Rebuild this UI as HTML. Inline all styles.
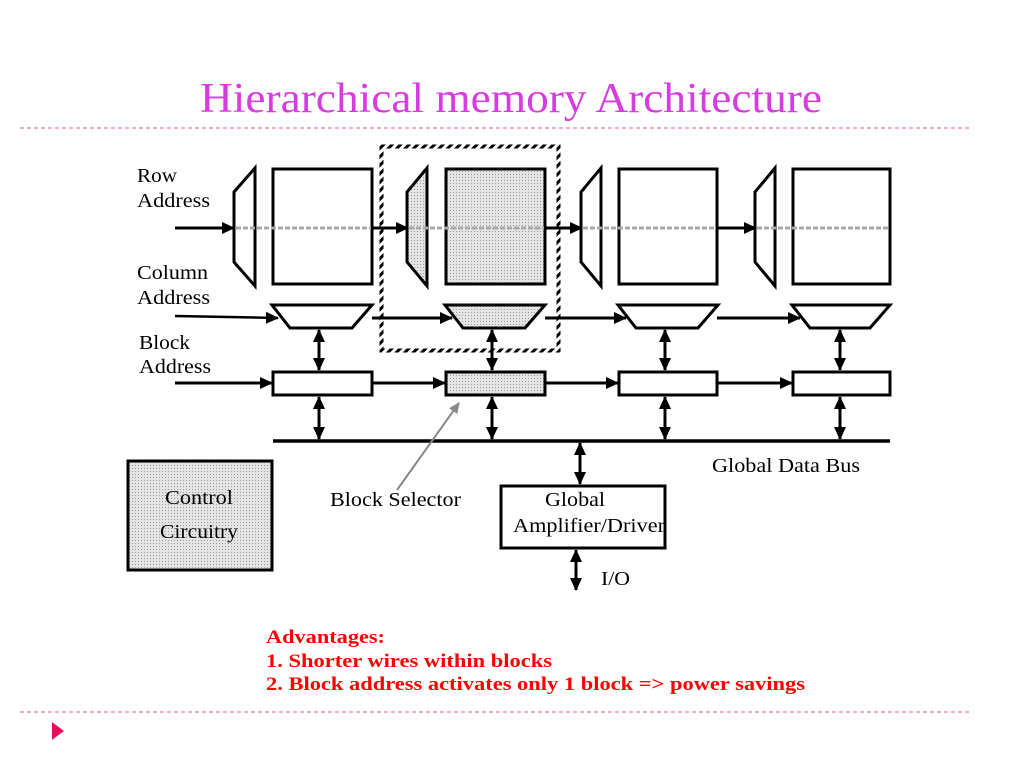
<!DOCTYPE html>
<html><head><meta charset="utf-8"><style>
html,body{margin:0;padding:0;background:#fff;}
svg{display:block;}
text{font-family:"Liberation Serif",serif;}
</style></head><body>
<svg width="1024" height="768" viewBox="0 0 1024 768" xmlns="http://www.w3.org/2000/svg">
<defs>
<pattern id="dots" width="3" height="3" patternUnits="userSpaceOnUse">
<rect width="3" height="3" fill="#e4e4e4"/><rect width="1" height="1" fill="#9a9a9a"/>
</pattern>
<pattern id="hatch" width="6" height="6" patternUnits="userSpaceOnUse" patternTransform="rotate(45)">
<rect width="6" height="6" fill="#fff"/><rect width="3" height="6" fill="#000"/>
</pattern>
<marker id="ah" markerWidth="13" markerHeight="12" refX="12" refY="6" orient="auto" markerUnits="userSpaceOnUse"><path d="M0,0 L13,6 L0,12 z" fill="#000"/></marker>
<marker id="ahs" markerWidth="13" markerHeight="12" refX="1" refY="6" orient="auto" markerUnits="userSpaceOnUse"><path d="M13,0 L0,6 L13,12 z" fill="#000"/></marker>
<marker id="ahg" markerWidth="12" markerHeight="12" refX="10" refY="6" orient="auto" markerUnits="userSpaceOnUse"><path d="M0,1 L11,6 L0,11 z" fill="#888"/></marker>
</defs>

<text x="200" y="112" font-size="42" fill="#d63ce0" textLength="622" lengthAdjust="spacingAndGlyphs">Hierarchical memory Architecture</text>
<line x1="20" y1="128" x2="972" y2="128" stroke="#e0609a" stroke-width="1" stroke-dasharray="4,3"/>
<line x1="20" y1="712" x2="972" y2="712" stroke="#e0609a" stroke-width="1" stroke-dasharray="4,3"/>
<polygon points="52,722 64,731 52,740" fill="#e0105a"/>

<rect x="381.5" y="146.5" width="177" height="204" fill="none" stroke="url(#hatch)" stroke-width="4"/>

<line x1="175" y1="228" x2="234" y2="228" stroke="#000" stroke-width="3" marker-end="url(#ah)"/>
<line x1="372" y1="228" x2="408" y2="228" stroke="#000" stroke-width="3" marker-end="url(#ah)"/>
<line x1="545" y1="228" x2="582" y2="228" stroke="#000" stroke-width="3" marker-end="url(#ah)"/>
<line x1="717" y1="228" x2="756" y2="228" stroke="#000" stroke-width="3" marker-end="url(#ah)"/>

<line x1="175" y1="316" x2="278" y2="318" stroke="#000" stroke-width="2.5" marker-end="url(#ah)"/>
<line x1="372" y1="318" x2="452" y2="318" stroke="#000" stroke-width="3" marker-end="url(#ah)"/>
<line x1="545" y1="318" x2="626" y2="318" stroke="#000" stroke-width="3" marker-end="url(#ah)"/>
<line x1="717" y1="318" x2="800" y2="318" stroke="#000" stroke-width="3" marker-end="url(#ah)"/>

<line x1="175" y1="383" x2="272" y2="383" stroke="#000" stroke-width="3" marker-end="url(#ah)"/>
<line x1="372" y1="383" x2="445" y2="383" stroke="#000" stroke-width="3" marker-end="url(#ah)"/>
<line x1="545" y1="383" x2="618" y2="383" stroke="#000" stroke-width="3" marker-end="url(#ah)"/>
<line x1="717" y1="383" x2="792" y2="383" stroke="#000" stroke-width="3" marker-end="url(#ah)"/>

<g stroke="#000" stroke-width="3">
<polygon points="255,168 255,286 234,262 234,192" fill="#fff"/>
<rect x="273" y="169" width="99" height="115" fill="#fff"/>
<polygon points="272,305 372,305 352,328 290,328" fill="#fff"/>
<rect x="273" y="372" width="99" height="23" fill="#fff"/>

<polygon points="427,168 427,286 407,262 407,192" fill="url(#dots)"/>
<rect x="446" y="169" width="99" height="115" fill="url(#dots)"/>
<polygon points="445,305 545,305 525,328 463,328" fill="url(#dots)"/>
<rect x="446" y="372" width="99" height="23" fill="url(#dots)"/>

<polygon points="601,168 601,286 581,262 581,192" fill="#fff"/>
<rect x="619" y="169" width="98" height="115" fill="#fff"/>
<polygon points="618,305 718,305 698,328 636,328" fill="#fff"/>
<rect x="619" y="372" width="98" height="23" fill="#fff"/>

<polygon points="775,168 775,286 755,262 755,192" fill="#fff"/>
<rect x="793" y="169" width="97" height="115" fill="#fff"/>
<polygon points="792,305 890,305 870,328 810,328" fill="#fff"/>
<rect x="793" y="372" width="97" height="23" fill="#fff"/>
</g>

<g stroke="#aaa" stroke-width="3" stroke-dasharray="5,2">
<line x1="236" y1="228" x2="371" y2="228"/>
<line x1="409" y1="228" x2="544" y2="228"/>
<line x1="583" y1="228" x2="716" y2="228"/>
<line x1="757" y1="228" x2="889" y2="228"/>
</g>

<g stroke="#000" stroke-width="3" marker-start="url(#ahs)" marker-end="url(#ah)">
<line x1="319" y1="330" x2="319" y2="370"/>
<line x1="319" y1="397" x2="319" y2="439"/>
<line x1="492" y1="330" x2="492" y2="370"/>
<line x1="492" y1="397" x2="492" y2="439"/>
<line x1="665" y1="330" x2="665" y2="370"/>
<line x1="665" y1="397" x2="665" y2="439"/>
<line x1="840" y1="330" x2="840" y2="370"/>
<line x1="840" y1="397" x2="840" y2="439"/>
<line x1="580" y1="443" x2="580" y2="484"/>
<line x1="576" y1="550" x2="576" y2="590"/>
</g>

<line x1="273" y1="441" x2="890" y2="441" stroke="#000" stroke-width="3.5"/>
<line x1="397" y1="490" x2="459" y2="403" stroke="#888" stroke-width="2" marker-end="url(#ahg)"/>

<rect x="128" y="461" width="144" height="109" fill="url(#dots)" stroke="#000" stroke-width="3"/>
<rect x="501" y="486" width="164" height="62" fill="#fff" stroke="#000" stroke-width="3"/>

<g font-size="20" fill="#000" lengthAdjust="spacingAndGlyphs">
<text x="137" y="182" textLength="40" lengthAdjust="spacingAndGlyphs">Row</text>
<text x="137" y="207" textLength="73" lengthAdjust="spacingAndGlyphs">Address</text>
<text x="137" y="279" textLength="71" lengthAdjust="spacingAndGlyphs">Column</text>
<text x="137" y="304" textLength="73" lengthAdjust="spacingAndGlyphs">Address</text>
<text x="139" y="349" textLength="51" lengthAdjust="spacingAndGlyphs">Block</text>
<text x="139" y="373" textLength="72" lengthAdjust="spacingAndGlyphs">Address</text>
<text x="712" y="472" textLength="148" lengthAdjust="spacingAndGlyphs">Global Data Bus</text>
<text x="330" y="506" textLength="131" lengthAdjust="spacingAndGlyphs">Block Selector</text>
<text x="165" y="504" textLength="68" lengthAdjust="spacingAndGlyphs">Control</text>
<text x="160" y="538" textLength="78" lengthAdjust="spacingAndGlyphs">Circuitry</text>
<text x="545" y="506" textLength="60" lengthAdjust="spacingAndGlyphs">Global</text>
<text x="513" y="532" textLength="152" lengthAdjust="spacingAndGlyphs">Amplifier/Driver</text>
<text x="601" y="585" textLength="29" lengthAdjust="spacingAndGlyphs">I/O</text>
</g>
<g font-size="19" font-weight="bold" fill="#ff0000">
<text x="266" y="643" textLength="119" lengthAdjust="spacingAndGlyphs">Advantages:</text>
<text x="266" y="667" textLength="286" lengthAdjust="spacingAndGlyphs">1. Shorter wires within blocks</text>
<text x="266" y="690" textLength="539" lengthAdjust="spacingAndGlyphs">2. Block address activates only 1 block =&gt; power savings</text>
</g>
</svg>
</body></html>
